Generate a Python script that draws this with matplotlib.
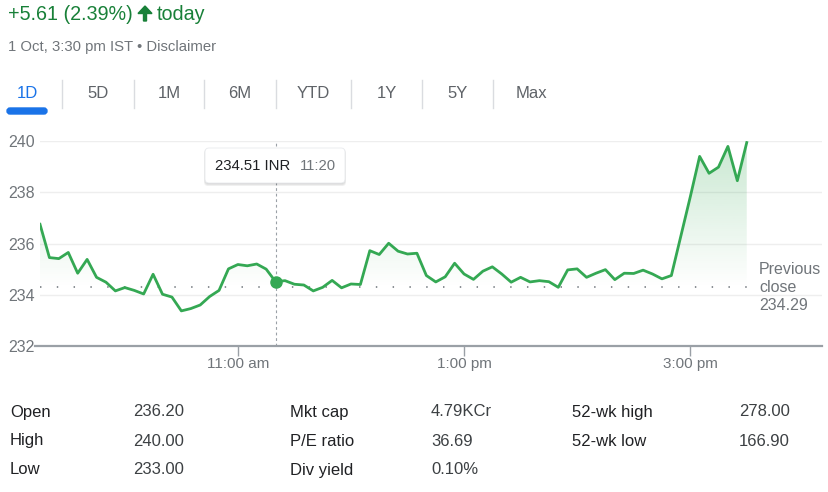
import matplotlib
matplotlib.use("Agg")
import matplotlib.pyplot as plt
import numpy as np
import pandas as pd
from matplotlib.colors import to_rgb
from matplotlib.patches import FancyBboxPatch, Polygon
from matplotlib.path import Path
from matplotlib.lines import Line2D
from matplotlib.transforms import IdentityTransform

plt.rcParams['font.family'] = ['Liberation Sans', 'DejaVu Sans']

W, H = 829, 492

# intraday prices, 5-minute samples from 9:15 to 15:30
times = pd.date_range("2021-10-01 09:15", "2021-10-01 15:30", freq="5min")
prices = [236.75, 235.45, 235.41, 235.65, 234.84, 235.38, 234.68, 234.49, 234.15, 234.28,
          234.17, 234.03, 234.80, 234.02, 233.91, 233.37, 233.46, 233.60, 233.93, 234.17,
          235.01, 235.18, 235.13, 235.20, 235.00, 234.51, 234.55, 234.41, 234.38, 234.15,
          234.29, 234.56, 234.27, 234.42, 234.40, 235.72, 235.57, 236.01, 235.70, 235.59,
          235.62, 234.75, 234.50, 234.70, 235.23, 234.81, 234.60, 234.92, 235.09, 234.81,
          234.49, 234.68, 234.50, 234.55, 234.51, 234.29, 234.97, 235.01, 234.68, 234.84,
          234.98, 234.59, 234.84, 234.83, 234.96, 234.81, 234.62, 234.75, 236.28, 237.81,
          239.40, 238.74, 238.98, 239.79, 238.45, 239.94]
prev_close = 234.29
hover_time = "11:20"
hover_price = 234.51

yticks = [232, 234, 236, 238, 240]
xticks = [11, 13, 15]
xticklabels = ["11:00 am", "1:00 pm", "3:00 pm"]

tabs = ["1D", "5D", "1M", "6M", "YTD", "1Y", "5Y", "Max"]

stat_labels = [["Open", "High", "Low"],
               ["Mkt cap", "P/E ratio", "Div yield"],
               ["52-wk high", "52-wk low"]]
stat_values = [["236.20", "240.00", "233.00"],
               ["4.79KCr", "36.69", "0.10%"],
               ["278.00", "166.90"]]

green = "#34a853"
dark_green = "#188038"
grey = "#70757a"
text_dark = "#202124"

fig = plt.figure(figsize=(W / 100, H / 100), dpi=100)


def fx(x):
    return x / W


def fy(y):
    return 1 - y / H


px = IdentityTransform()

# header
fig.text(fx(8), fy(14), "+5.61 (2.39%)", color=dark_green, fontsize=14.2, va="center")
arrow = Polygon([(145, H - 6), (138, H - 13.5), (143.5, H - 13.5), (143.5, H - 21),
                 (146.5, H - 21), (146.5, H - 13.5), (152, H - 13.5)],
                closed=True, transform=px, color=dark_green)
fig.patches.append(arrow)
fig.text(fx(157), fy(14), "today", color=dark_green, fontsize=14.2, va="center")
fig.text(fx(8), fy(47), "1 Oct, 3:30 pm IST \u2022 Disclaimer", color=grey, fontsize=10.7, va="center")

# range tabs
tab_x = [27, 98, 169, 240, 313, 387, 458, 531]
sep_x = [62, 134, 204, 276, 351, 422, 493]
for i, t in enumerate(tabs):
    fig.text(fx(tab_x[i]), fy(94), t, ha="center", va="center", fontsize=12,
             color="#1a73e8" if i == 0 else "#5f6368")
for s in sep_x:
    fig.lines.append(Line2D([s, s], [H - 80, H - 108], transform=px, color="#dadce0", lw=1))
fig.patches.append(FancyBboxPatch((7, H - 114), 40, 6, boxstyle="round,pad=0,rounding_size=3",
                                  transform=px, color="#1a73e8"))

# chart
hours = np.asarray(times.hour + times.minute / 60.0)
x0, x1 = 9.25, 9.25 + 782 / 113.08
ax = fig.add_axes([fx(40), fy(346), 782 / W, 205 / H])
ax.set_facecolor("none")

for v in yticks[1:]:
    ax.axhline(v, color="#eeeeee", lw=1, zorder=0)

vals = np.array(prices)
top = np.maximum(vals, prev_close)
verts = np.column_stack([np.r_[hours, hours[::-1], hours[:1]],
                         np.r_[top, np.full(len(hours), prev_close), top[:1]]])
clip = Path(verts, closed=True)
grad = np.zeros((256, 1, 4))
grad[..., :3] = to_rgb(green)
grad[:, 0, 3] = np.linspace(0.0, 0.27, 256)
im = ax.imshow(grad, extent=[hours[0], hours[-1], prev_close, 240], origin="lower",
               aspect="auto", zorder=1, interpolation="bilinear")
im.set_clip_path(clip, transform=ax.transData)

ax.plot([x0, 15.55], [prev_close, prev_close], color="#80868b", lw=1.3,
        linestyle=(0, (0.8, 8.5)), zorder=2)

hx = int(hover_time[:2]) + int(hover_time[3:]) / 60
ax.axvline(hx, color="#9aa0a6", lw=0.8, linestyle=(0, (2.5, 2.5)), zorder=2)

ax.plot(hours, vals, color=green, lw=2.0, zorder=3)
ax.plot([hx], [hover_price], "o", color=green, ms=8, zorder=4)

ax.set_xlim(x0, x1)
ax.set_ylim(232, 240)
for s in ax.spines.values():
    s.set_visible(False)
ax.set_yticks(yticks)
ax.set_yticklabels([str(v) for v in yticks])
ax.set_xticks(xticks)
ax.set_xticklabels(xticklabels)
ax.tick_params(axis="y", length=0, pad=4, labelsize=11.5, labelcolor=grey)
ax.tick_params(axis="x", length=7, width=1, color="#9aa0a6", pad=1, labelsize=11, labelcolor=grey)
fig.lines.append(Line2D([35, 822], [H - 346, H - 346], transform=px, color="#9aa0a6", lw=1.6))

# previous close label
for j, t in enumerate(["Previous", "close", "%.2f" % prev_close]):
    fig.text(fx(759), fy(269 + j * 18.5), t, color=grey, fontsize=11.5, va="center")

# tooltip
for k, a in enumerate([0.05, 0.05, 0.06]):
    fig.patches.append(FancyBboxPatch((205 - k * 0.5, H - 183 - 1 - k), 140 + k, 35 + k,
                                      boxstyle="round,pad=0,rounding_size=4", transform=px,
                                      color="black", alpha=a, lw=0))
fig.patches.append(FancyBboxPatch((205, H - 183), 140, 35, boxstyle="round,pad=0,rounding_size=4",
                                  transform=px, facecolor="white", edgecolor="#e8eaed", lw=0.6))
fig.text(fx(215), fy(165.5), "%.2f INR" % hover_price, color=text_dark, fontsize=10.7, va="center")
fig.text(fx(300), fy(165.5), hover_time, color=grey, fontsize=10.7, va="center")

# key stats table
col_label_x = [10, 290, 572]
col_value_x = [133, 431, 739]
row_y = [412, 441, 470]
for c in range(3):
    for r in range(len(stat_labels[c])):
        fig.text(fx(col_label_x[c]), fy(row_y[r]), stat_labels[c][r], color=text_dark,
                 fontsize=12, va="center")
        fig.text(fx(col_value_x[c]), fy(row_y[r]), stat_values[c][r], color="#3c4043",
                 fontsize=12, va="center")

fig.savefig("out.png", dpi=100)
